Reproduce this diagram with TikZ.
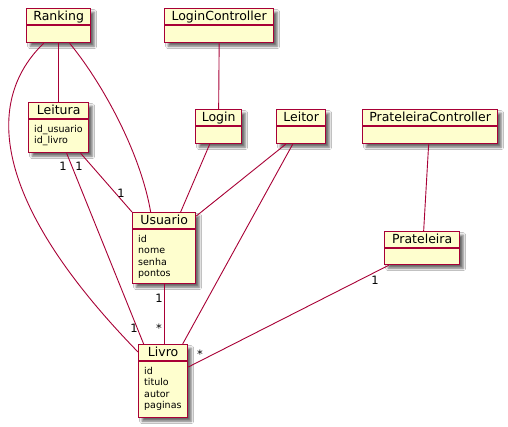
\documentclass[tikz,border=0pt]{standalone}
\usepackage{fontspec}
\setmainfont{DejaVu Sans}
\usetikzlibrary{shadows.blur,calc}
\definecolor{umlfill}{HTML}{FEFECE}
\definecolor{umlline}{HTML}{A80036}
\tikzset{
  clsbox/.style={draw=umlline, fill=umlfill, line width=1.3pt, anchor=north west, inner sep=0pt,
    blur shadow={shadow xshift=3.5pt, shadow yshift=-3.5pt, shadow blur radius=2.5pt, shadow opacity=60}},
  ttl/.style={font=\fontsize{12.5}{14}\selectfont, inner sep=0pt, anchor=base},
  attr/.style={font=\fontsize{9.5}{11.6}\selectfont, inner sep=0pt, anchor=north west, align=left},
  sepline/.style={draw=umlline, line width=1.3pt},
  assoc/.style={draw=umlline, line width=0.9pt},
  mult/.style={font=\fontsize{11.5}{12}\selectfont, inner sep=0pt},
}
\newcommand\umlcls[6]{%
  \node[clsbox, minimum width=#4pt, minimum height=#5pt] (#1) at (#2,#3) {};
  \draw[sepline] ([yshift=-17pt]#1.north west) -- ([yshift=-17pt]#1.north east);
  \node[ttl] (#1-t) at ([yshift=-12.6pt]#1.north) {#6};
}
\begin{document}
\begin{tikzpicture}[x=1pt,y=-1pt]
\fill[white] (0,0) rectangle (508,427);
\useasboundingbox (0,0) rectangle (508,427);

\umlcls{ranking}{26}{8}{64}{34}{Ranking}
\umlcls{loginctl}{164}{8}{109}{34}{LoginController}
\umlcls{leitura}{28}{102}{60}{50}{Leitura}
\node[attr] (leitura-a) at ([xshift=6pt,yshift=-22.6pt]leitura.north west) {id\_usuario\\id\_livro};
\umlcls{login}{195}{109}{46}{34}{Login}
\umlcls{leitor}{276}{109}{49}{34}{Leitor}
\umlcls{pratctl}{362}{109}{135}{34}{PrateleiraController}
\umlcls{prat}{384}{231}{75}{33}{Prateleira}
\umlcls{usuario}{132}{212}{63}{71}{Usuario}
\node[attr] (usuario-a) at ([xshift=6pt,yshift=-22.6pt]usuario.north west) {id\\nome\\senha\\pontos};
\umlcls{livro}{138}{344}{49}{73}{Livro}
\node[attr] (livro-a) at ([xshift=6pt,yshift=-22.6pt]livro.north west) {id\\titulo\\autor\\paginas};

% associations
\draw[assoc] (ranking.south) -- (leitura.north);
\draw[assoc] ([xshift=11pt]ranking.south) .. controls (100,80) and (140,150) .. ([xshift=-13.5pt]usuario.north);
\draw[assoc] ([xshift=-15pt]ranking.south) .. controls (-15,100) and (-10,200) .. ([yshift=-8pt]livro.north west);
\draw[assoc] ([xshift=22pt]leitura.south) -- (usuario.north west);
\draw[assoc] ([xshift=8pt]leitura.south) -- ([xshift=-19.5pt]livro.north);
\draw[assoc] (loginctl.south) -- (login.north);
\draw[assoc] ([xshift=-9pt]login.south) -- ([xshift=16.5pt]usuario.north);
\draw[assoc] ([xshift=-15.5pt]leitor.south) -- ([yshift=-4pt]usuario.north east);
\draw[assoc] ([xshift=-8.5pt]leitor.south) -- ([xshift=19.5pt]livro.north);
\draw[assoc] ([xshift=-1.5pt]pratctl.south) -- ([xshift=1.5pt]prat.north);
\draw[assoc] ([xshift=-33.5pt]prat.south) -- ([yshift=-23pt]livro.north east);
\draw[assoc] (usuario.south) -- (usuario.south |- livro.north);

% multiplicities
\node[mult] (m1) at (79,166) {1};
\node[mult] (m2) at (121,193) {1};
\node[mult] (m3) at (63,166) {1};
\node[mult] (m4) at (134,328) {1};
\node[mult] (m5) at (159,298) {1};
\node[mult] (m6) at (159,328.5) {*};
\node[mult] (m7) at (375,280) {1};
\node[mult] (m8) at (200,354.5) {*};
\end{tikzpicture}
\end{document}
